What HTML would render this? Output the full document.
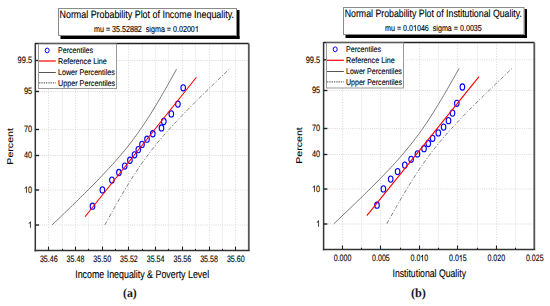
<!DOCTYPE html>
<html><head><meta charset="utf-8"><style>
html,body{margin:0;padding:0;background:#fff;width:550px;height:306px;overflow:hidden}
svg{display:block;font-family:"Liberation Sans", sans-serif;text-rendering:geometricPrecision}
</style></head><body>
<svg width="550" height="306" viewBox="0 0 550 306">
<rect width="550" height="306" fill="#fff"/>
<rect x="60.5" y="36" width="179" height="3" fill="#000"/>
<rect x="237" y="10" width="2.5" height="29" fill="#000"/>
<rect x="58.5" y="8.5" width="178" height="27" fill="#fff" stroke="#8a8a8a" stroke-width="1"/>
<text x="59.50" y="18.35" font-size="10.7" text-anchor="start" fill="#000" stroke="#000" stroke-width="0.12" textLength="174.50" lengthAdjust="spacingAndGlyphs">Normal Probability Plot of Income Inequality.</text>
<text x="94.00" y="32.00" font-size="8.7" fill="#000" stroke="#000" stroke-width="0.12" style="font-kerning:none" textLength="104.80" lengthAdjust="spacingAndGlyphs" xml:space="preserve">mu = 35.52882  sigma = 0.0200 </text>
<path transform="translate(194.829,32.000) scale(0.00349,-0.00425)" d="M763 0L583 0L583 1102Q480 1010 223 878L223 1046Q450 1170 621 1409L763 1409Z" fill="#000" stroke="#000" stroke-width="28.2"/>
<line x1="48.5" y1="43.5" x2="48.5" y2="250.6" stroke="#d9d9d9" stroke-width="1" stroke-dasharray="1,1.7"/>
<line x1="62.5" y1="43.5" x2="62.5" y2="250.6" stroke="#f0f0f0" stroke-width="1"/>
<line x1="75.5" y1="43.5" x2="75.5" y2="250.6" stroke="#d9d9d9" stroke-width="1" stroke-dasharray="1,1.7"/>
<line x1="88.5" y1="43.5" x2="88.5" y2="250.6" stroke="#f0f0f0" stroke-width="1"/>
<line x1="102.5" y1="43.5" x2="102.5" y2="250.6" stroke="#d9d9d9" stroke-width="1" stroke-dasharray="1,1.7"/>
<line x1="115.5" y1="43.5" x2="115.5" y2="250.6" stroke="#f0f0f0" stroke-width="1"/>
<line x1="128.5" y1="43.5" x2="128.5" y2="250.6" stroke="#d9d9d9" stroke-width="1" stroke-dasharray="1,1.7"/>
<line x1="142.5" y1="43.5" x2="142.5" y2="250.6" stroke="#f0f0f0" stroke-width="1"/>
<line x1="155.5" y1="43.5" x2="155.5" y2="250.6" stroke="#d9d9d9" stroke-width="1" stroke-dasharray="1,1.7"/>
<line x1="168.5" y1="43.5" x2="168.5" y2="250.6" stroke="#f0f0f0" stroke-width="1"/>
<line x1="182.5" y1="43.5" x2="182.5" y2="250.6" stroke="#d9d9d9" stroke-width="1" stroke-dasharray="1,1.7"/>
<line x1="195.5" y1="43.5" x2="195.5" y2="250.6" stroke="#f0f0f0" stroke-width="1"/>
<line x1="209.5" y1="43.5" x2="209.5" y2="250.6" stroke="#d9d9d9" stroke-width="1" stroke-dasharray="1,1.7"/>
<line x1="222.5" y1="43.5" x2="222.5" y2="250.6" stroke="#f0f0f0" stroke-width="1"/>
<line x1="235.5" y1="43.5" x2="235.5" y2="250.6" stroke="#d9d9d9" stroke-width="1" stroke-dasharray="1,1.7"/>
<line x1="35.3" y1="60.5" x2="248.8" y2="60.5" stroke="#dadada" stroke-width="1" stroke-dasharray="1,1.2"/>
<line x1="35.3" y1="91.5" x2="248.8" y2="91.5" stroke="#dadada" stroke-width="1" stroke-dasharray="1,1.2"/>
<line x1="35.3" y1="129.5" x2="248.8" y2="129.5" stroke="#dadada" stroke-width="1" stroke-dasharray="1,1.2"/>
<line x1="35.3" y1="155.5" x2="248.8" y2="155.5" stroke="#dadada" stroke-width="1" stroke-dasharray="1,1.2"/>
<line x1="35.3" y1="190.0" x2="248.8" y2="190.0" stroke="#dadada" stroke-width="1" stroke-dasharray="1,1.2"/>
<line x1="35.3" y1="225.0" x2="248.8" y2="225.0" stroke="#dadada" stroke-width="1" stroke-dasharray="1,1.2"/>
<line x1="35.3" y1="43.5" x2="248.8" y2="43.5" stroke="#222" stroke-width="1.5"/>
<line x1="248.8" y1="43.5" x2="248.8" y2="250.6" stroke="#555" stroke-width="1.8"/>
<line x1="35.3" y1="42.9" x2="35.3" y2="251.4" stroke="#333" stroke-width="1.5"/>
<line x1="34.55" y1="250.6" x2="249.70000000000002" y2="250.6" stroke="#333" stroke-width="1.5"/>
<line x1="35.3" y1="60.5" x2="39.099999999999994" y2="60.5" stroke="#222" stroke-width="1.4"/>
<text x="17.60" y="63.30" font-size="9.2" text-anchor="start" fill="#000" stroke="#000" stroke-width="0.12" textLength="14.50" lengthAdjust="spacingAndGlyphs">99.5</text>
<line x1="35.3" y1="91.5" x2="39.099999999999994" y2="91.5" stroke="#222" stroke-width="1.4"/>
<text x="23.90" y="94.30" font-size="9.2" text-anchor="start" fill="#000" stroke="#000" stroke-width="0.12" textLength="8.20" lengthAdjust="spacingAndGlyphs">95</text>
<line x1="35.3" y1="129.5" x2="39.099999999999994" y2="129.5" stroke="#222" stroke-width="1.4"/>
<text x="23.90" y="132.30" font-size="9.2" text-anchor="start" fill="#000" stroke="#000" stroke-width="0.12" textLength="8.20" lengthAdjust="spacingAndGlyphs">70</text>
<line x1="35.3" y1="155.5" x2="39.099999999999994" y2="155.5" stroke="#222" stroke-width="1.4"/>
<text x="23.90" y="158.30" font-size="9.2" text-anchor="start" fill="#000" stroke="#000" stroke-width="0.12" textLength="8.20" lengthAdjust="spacingAndGlyphs">40</text>
<line x1="35.3" y1="190.0" x2="39.099999999999994" y2="190.0" stroke="#222" stroke-width="1.4"/>
<text x="23.90" y="192.80" font-size="9.2" fill="#000" stroke="#000" stroke-width="0.12" style="font-kerning:none" textLength="8.20" lengthAdjust="spacingAndGlyphs"> 0</text>
<path transform="translate(23.900,192.800) scale(0.00360,-0.00449)" d="M763 0L583 0L583 1102Q480 1010 223 878L223 1046Q450 1170 621 1409L763 1409Z" fill="#000" stroke="#000" stroke-width="26.7"/>
<line x1="35.3" y1="225.0" x2="39.099999999999994" y2="225.0" stroke="#222" stroke-width="1.4"/>
<text x="28.00" y="227.80" font-size="9.2" fill="#000" stroke="#000" stroke-width="0.12" style="font-kerning:none" textLength="4.10" lengthAdjust="spacingAndGlyphs"> </text>
<path transform="translate(28.000,227.800) scale(0.00360,-0.00449)" d="M763 0L583 0L583 1102Q480 1010 223 878L223 1046Q450 1170 621 1409L763 1409Z" fill="#000" stroke="#000" stroke-width="26.7"/>
<line x1="48.5" y1="250.6" x2="48.5" y2="246.6" stroke="#222" stroke-width="1.1"/>
<line x1="62.5" y1="250.6" x2="62.5" y2="248.79999999999998" stroke="#222" stroke-width="1.1"/>
<line x1="75.5" y1="250.6" x2="75.5" y2="246.6" stroke="#222" stroke-width="1.1"/>
<line x1="88.5" y1="250.6" x2="88.5" y2="248.79999999999998" stroke="#222" stroke-width="1.1"/>
<line x1="102.5" y1="250.6" x2="102.5" y2="246.6" stroke="#222" stroke-width="1.1"/>
<line x1="115.5" y1="250.6" x2="115.5" y2="248.79999999999998" stroke="#222" stroke-width="1.1"/>
<line x1="128.5" y1="250.6" x2="128.5" y2="246.6" stroke="#222" stroke-width="1.1"/>
<line x1="142.5" y1="250.6" x2="142.5" y2="248.79999999999998" stroke="#222" stroke-width="1.1"/>
<line x1="155.5" y1="250.6" x2="155.5" y2="246.6" stroke="#222" stroke-width="1.1"/>
<line x1="168.5" y1="250.6" x2="168.5" y2="248.79999999999998" stroke="#222" stroke-width="1.1"/>
<line x1="182.5" y1="250.6" x2="182.5" y2="246.6" stroke="#222" stroke-width="1.1"/>
<line x1="195.5" y1="250.6" x2="195.5" y2="248.79999999999998" stroke="#222" stroke-width="1.1"/>
<line x1="209.5" y1="250.6" x2="209.5" y2="246.6" stroke="#222" stroke-width="1.1"/>
<line x1="222.5" y1="250.6" x2="222.5" y2="248.79999999999998" stroke="#222" stroke-width="1.1"/>
<line x1="235.5" y1="250.6" x2="235.5" y2="246.6" stroke="#222" stroke-width="1.1"/>
<text x="39.88" y="261.70" font-size="9.2" text-anchor="start" fill="#000" stroke="#000" stroke-width="0.12" textLength="17.80" lengthAdjust="spacingAndGlyphs">35.46</text>
<text x="66.59" y="261.70" font-size="9.2" text-anchor="start" fill="#000" stroke="#000" stroke-width="0.12" textLength="17.80" lengthAdjust="spacingAndGlyphs">35.48</text>
<text x="93.31" y="261.70" font-size="9.2" text-anchor="start" fill="#000" stroke="#000" stroke-width="0.12" textLength="17.80" lengthAdjust="spacingAndGlyphs">35.50</text>
<text x="120.02" y="261.70" font-size="9.2" text-anchor="start" fill="#000" stroke="#000" stroke-width="0.12" textLength="17.80" lengthAdjust="spacingAndGlyphs">35.52</text>
<text x="146.74" y="261.70" font-size="9.2" text-anchor="start" fill="#000" stroke="#000" stroke-width="0.12" textLength="17.80" lengthAdjust="spacingAndGlyphs">35.54</text>
<text x="173.45" y="261.70" font-size="9.2" text-anchor="start" fill="#000" stroke="#000" stroke-width="0.12" textLength="17.80" lengthAdjust="spacingAndGlyphs">35.56</text>
<text x="200.16" y="261.70" font-size="9.2" text-anchor="start" fill="#000" stroke="#000" stroke-width="0.12" textLength="17.80" lengthAdjust="spacingAndGlyphs">35.58</text>
<text x="226.88" y="261.70" font-size="9.2" text-anchor="start" fill="#000" stroke="#000" stroke-width="0.12" textLength="17.80" lengthAdjust="spacingAndGlyphs">35.60</text>
<text x="75.20" y="278.20" font-size="11" text-anchor="start" fill="#000" stroke="#000" stroke-width="0.12" textLength="134.00" lengthAdjust="spacingAndGlyphs">Income Inequality &amp; Poverty Level</text>
<g transform="translate(13.40,164.70) scale(0.8,1) rotate(-90)"><text x="0" y="0" font-size="10.5" fill="#000" stroke="#000" stroke-width="0.12" textLength="36.70" lengthAdjust="spacingAndGlyphs">Percent</text></g>
<polyline points="52.18,224.88 54.22,222.94 56.26,220.99 58.30,219.04 60.33,217.10 62.36,215.15 64.38,213.20 66.40,211.25 68.41,209.31 70.42,207.36 72.43,205.41 74.42,203.47 76.42,201.52 78.40,199.57 80.38,197.62 82.35,195.68 84.32,193.73 86.27,191.78 88.22,189.84 90.15,187.89 92.08,185.94 94.00,183.99 95.90,182.05 97.80,180.10 99.68,178.15 101.54,176.21 103.39,174.26 105.23,172.31 107.05,170.36 108.86,168.42 110.64,166.47 112.41,164.52 114.15,162.58 115.88,160.63 117.59,158.68 119.27,156.73 120.93,154.79 122.57,152.84 124.18,150.89 125.77,148.95 127.34,147.00 128.88,145.05 130.40,143.10 131.90,141.16 133.37,139.21 134.81,137.26 136.24,135.32 137.64,133.37 139.03,131.42 140.39,129.47 141.73,127.53 143.05,125.58 144.36,123.63 145.65,121.69 146.92,119.74 148.18,117.79 149.42,115.84 150.65,113.90 151.86,111.95 153.07,110.00 154.26,108.06 155.44,106.11 156.61,104.16 157.77,102.21 158.93,100.27 160.07,98.32 161.21,96.37 162.34,94.43 163.46,92.48 164.58,90.53 165.69,88.58 166.80,86.64 167.90,84.69 168.99,82.74 170.08,80.80 171.17,78.85 172.25,76.90 173.33,74.95 174.40,73.01 175.47,71.06 176.54,69.11" fill="none" stroke="#777" stroke-width="1.0"/>
<polyline points="104.87,224.88 105.94,222.94 107.01,220.99 108.08,219.04 109.16,217.10 110.24,215.15 111.33,213.20 112.42,211.25 113.51,209.31 114.61,207.36 115.72,205.41 116.83,203.47 117.94,201.52 119.07,199.57 120.20,197.62 121.34,195.68 122.48,193.73 123.63,191.78 124.80,189.84 125.97,187.89 127.15,185.94 128.34,183.99 129.55,182.05 130.76,180.10 131.99,178.15 133.23,176.21 134.49,174.26 135.76,172.31 137.05,170.36 138.36,168.42 139.68,166.47 141.02,164.52 142.38,162.58 143.76,160.63 145.17,158.68 146.59,156.73 148.04,154.79 149.51,152.84 151.01,150.89 152.53,148.95 154.07,147.00 155.63,145.05 157.22,143.10 158.84,141.16 160.48,139.21 162.14,137.26 163.82,135.32 165.53,133.37 167.25,131.42 169.00,129.47 170.77,127.53 172.55,125.58 174.36,123.63 176.18,121.69 178.01,119.74 179.87,117.79 181.73,115.84 183.61,113.90 185.51,111.95 187.41,110.00 189.33,108.06 191.25,106.11 193.19,104.16 195.14,102.21 197.09,100.27 199.06,98.32 201.03,96.37 203.01,94.43 204.99,92.48 206.99,90.53 208.98,88.58 210.99,86.64 213.00,84.69 215.01,82.74 217.03,80.80 219.05,78.85 221.08,76.90 223.11,74.95 225.15,73.01 227.18,71.06 229.23,69.11" fill="none" stroke="#808080" stroke-width="1.0" stroke-dasharray="4,1.8,1.2,1.8"/>
<ellipse cx="92.50" cy="206.22" rx="2.3" ry="3.1" fill="none" stroke="#0000ff" stroke-width="1.1"/>
<ellipse cx="102.40" cy="189.91" rx="2.3" ry="3.1" fill="none" stroke="#0000ff" stroke-width="1.1"/>
<ellipse cx="111.90" cy="180.08" rx="2.3" ry="3.1" fill="none" stroke="#0000ff" stroke-width="1.1"/>
<ellipse cx="118.90" cy="172.51" rx="2.3" ry="3.1" fill="none" stroke="#0000ff" stroke-width="1.1"/>
<ellipse cx="124.70" cy="166.06" rx="2.3" ry="3.1" fill="none" stroke="#0000ff" stroke-width="1.1"/>
<ellipse cx="129.90" cy="160.25" rx="2.3" ry="3.1" fill="none" stroke="#0000ff" stroke-width="1.1"/>
<ellipse cx="134.50" cy="154.82" rx="2.3" ry="3.1" fill="none" stroke="#0000ff" stroke-width="1.1"/>
<ellipse cx="138.30" cy="149.58" rx="2.3" ry="3.1" fill="none" stroke="#0000ff" stroke-width="1.1"/>
<ellipse cx="142.00" cy="144.42" rx="2.3" ry="3.1" fill="none" stroke="#0000ff" stroke-width="1.1"/>
<ellipse cx="147.00" cy="139.18" rx="2.3" ry="3.1" fill="none" stroke="#0000ff" stroke-width="1.1"/>
<ellipse cx="152.80" cy="133.75" rx="2.3" ry="3.1" fill="none" stroke="#0000ff" stroke-width="1.1"/>
<ellipse cx="161.50" cy="127.94" rx="2.3" ry="3.1" fill="none" stroke="#0000ff" stroke-width="1.1"/>
<ellipse cx="163.80" cy="121.49" rx="2.3" ry="3.1" fill="none" stroke="#0000ff" stroke-width="1.1"/>
<ellipse cx="171.30" cy="113.92" rx="2.3" ry="3.1" fill="none" stroke="#0000ff" stroke-width="1.1"/>
<ellipse cx="177.90" cy="104.09" rx="2.3" ry="3.1" fill="none" stroke="#0000ff" stroke-width="1.1"/>
<ellipse cx="183.20" cy="87.78" rx="2.3" ry="3.1" fill="none" stroke="#0000ff" stroke-width="1.1"/>
<line x1="85.03" y1="216.74" x2="196.38" y2="77.26" stroke="#ff0000" stroke-width="1.1"/>
<rect x="38.5" y="44" width="78.0" height="44.5" fill="#fff" stroke="#999" stroke-width="1"/>
<ellipse cx="47.20" cy="50.50" rx="2.0" ry="2.4" fill="none" stroke="#0000ff" stroke-width="1.0"/>
<line x1="39.0" y1="61" x2="55.8" y2="61" stroke="#ff0000" stroke-width="1.2"/>
<line x1="39.0" y1="72.5" x2="55.8" y2="72.5" stroke="#555" stroke-width="1"/>
<line x1="39.0" y1="82.8" x2="55.8" y2="82.8" stroke="#707070" stroke-width="1.2" stroke-dasharray="1.4,0.9"/>
<text x="58.00" y="53.40" font-size="8.2" text-anchor="start" fill="#000" stroke="#000" stroke-width="0.12" textLength="35.00" lengthAdjust="spacingAndGlyphs">Percentiles</text>
<text x="58.00" y="63.90" font-size="8.2" text-anchor="start" fill="#000" stroke="#000" stroke-width="0.12" textLength="48.80" lengthAdjust="spacingAndGlyphs">Reference Line</text>
<text x="58.00" y="75.40" font-size="8.2" text-anchor="start" fill="#000" stroke="#000" stroke-width="0.12" textLength="56.80" lengthAdjust="spacingAndGlyphs">Lower Percentiles</text>
<text x="58.00" y="85.70" font-size="8.2" text-anchor="start" fill="#000" stroke="#000" stroke-width="0.12" textLength="57.20" lengthAdjust="spacingAndGlyphs">Upper Percentiles</text>
<text x="123" y="296.8" style="font-family:'Liberation Serif',serif;font-weight:bold" font-size="12.5" fill="#1a1a1a" textLength="13.800000000000011" lengthAdjust="spacingAndGlyphs">(a)</text>
<rect x="345.5" y="35" width="181.5" height="3" fill="#000"/>
<rect x="524.5" y="9" width="2.5" height="29" fill="#000"/>
<rect x="343.5" y="7.5" width="180.5" height="27" fill="#fff" stroke="#8a8a8a" stroke-width="1"/>
<text x="344.70" y="17.35" font-size="10.7" text-anchor="start" fill="#000" stroke="#000" stroke-width="0.12" textLength="177.30" lengthAdjust="spacingAndGlyphs">Normal Probability Plot of Institutional Quality.</text>
<text x="385.00" y="31.00" font-size="8.7" fill="#000" stroke="#000" stroke-width="0.12" style="font-kerning:none" textLength="96.80" lengthAdjust="spacingAndGlyphs" xml:space="preserve">mu = 0.0 046  sigma = 0.0035</text>
<path transform="translate(412.966,31.000) scale(0.00348,-0.00425)" d="M763 0L583 0L583 1102Q480 1010 223 878L223 1046Q450 1170 621 1409L763 1409Z" fill="#000" stroke="#000" stroke-width="28.2"/>
<line x1="342.5" y1="42.6" x2="342.5" y2="249.5" stroke="#d9d9d9" stroke-width="1" stroke-dasharray="1,1.7"/>
<line x1="361.5" y1="42.6" x2="361.5" y2="249.5" stroke="#f0f0f0" stroke-width="1"/>
<line x1="380.5" y1="42.6" x2="380.5" y2="249.5" stroke="#d9d9d9" stroke-width="1" stroke-dasharray="1,1.7"/>
<line x1="400.5" y1="42.6" x2="400.5" y2="249.5" stroke="#f0f0f0" stroke-width="1"/>
<line x1="419.5" y1="42.6" x2="419.5" y2="249.5" stroke="#d9d9d9" stroke-width="1" stroke-dasharray="1,1.7"/>
<line x1="438.5" y1="42.6" x2="438.5" y2="249.5" stroke="#f0f0f0" stroke-width="1"/>
<line x1="457.5" y1="42.6" x2="457.5" y2="249.5" stroke="#d9d9d9" stroke-width="1" stroke-dasharray="1,1.7"/>
<line x1="477.5" y1="42.6" x2="477.5" y2="249.5" stroke="#f0f0f0" stroke-width="1"/>
<line x1="496.5" y1="42.6" x2="496.5" y2="249.5" stroke="#d9d9d9" stroke-width="1" stroke-dasharray="1,1.7"/>
<line x1="515.5" y1="42.6" x2="515.5" y2="249.5" stroke="#f0f0f0" stroke-width="1"/>
<line x1="323.6" y1="59.8" x2="534.3" y2="59.8" stroke="#dadada" stroke-width="1" stroke-dasharray="1,1.2"/>
<line x1="323.6" y1="90.5" x2="534.3" y2="90.5" stroke="#dadada" stroke-width="1" stroke-dasharray="1,1.2"/>
<line x1="323.6" y1="128.5" x2="534.3" y2="128.5" stroke="#dadada" stroke-width="1" stroke-dasharray="1,1.2"/>
<line x1="323.6" y1="154.5" x2="534.3" y2="154.5" stroke="#dadada" stroke-width="1" stroke-dasharray="1,1.2"/>
<line x1="323.6" y1="189.0" x2="534.3" y2="189.0" stroke="#dadada" stroke-width="1" stroke-dasharray="1,1.2"/>
<line x1="323.6" y1="224.0" x2="534.3" y2="224.0" stroke="#dadada" stroke-width="1" stroke-dasharray="1,1.2"/>
<line x1="323.6" y1="42.6" x2="534.3" y2="42.6" stroke="#222" stroke-width="1.5"/>
<line x1="534.3" y1="42.6" x2="534.3" y2="249.5" stroke="#555" stroke-width="1.8"/>
<line x1="323.6" y1="42.0" x2="323.6" y2="250.3" stroke="#333" stroke-width="1.5"/>
<line x1="322.85" y1="249.5" x2="535.1999999999999" y2="249.5" stroke="#333" stroke-width="1.5"/>
<line x1="323.6" y1="59.8" x2="327.40000000000003" y2="59.8" stroke="#222" stroke-width="1.4"/>
<text x="305.70" y="62.60" font-size="9.2" text-anchor="start" fill="#000" stroke="#000" stroke-width="0.12" textLength="14.50" lengthAdjust="spacingAndGlyphs">99.5</text>
<line x1="323.6" y1="90.5" x2="327.40000000000003" y2="90.5" stroke="#222" stroke-width="1.4"/>
<text x="312.00" y="93.30" font-size="9.2" text-anchor="start" fill="#000" stroke="#000" stroke-width="0.12" textLength="8.20" lengthAdjust="spacingAndGlyphs">95</text>
<line x1="323.6" y1="128.5" x2="327.40000000000003" y2="128.5" stroke="#222" stroke-width="1.4"/>
<text x="312.00" y="131.30" font-size="9.2" text-anchor="start" fill="#000" stroke="#000" stroke-width="0.12" textLength="8.20" lengthAdjust="spacingAndGlyphs">70</text>
<line x1="323.6" y1="154.5" x2="327.40000000000003" y2="154.5" stroke="#222" stroke-width="1.4"/>
<text x="312.00" y="157.30" font-size="9.2" text-anchor="start" fill="#000" stroke="#000" stroke-width="0.12" textLength="8.20" lengthAdjust="spacingAndGlyphs">40</text>
<line x1="323.6" y1="189.0" x2="327.40000000000003" y2="189.0" stroke="#222" stroke-width="1.4"/>
<text x="312.00" y="191.80" font-size="9.2" fill="#000" stroke="#000" stroke-width="0.12" style="font-kerning:none" textLength="8.20" lengthAdjust="spacingAndGlyphs"> 0</text>
<path transform="translate(312.000,191.800) scale(0.00360,-0.00449)" d="M763 0L583 0L583 1102Q480 1010 223 878L223 1046Q450 1170 621 1409L763 1409Z" fill="#000" stroke="#000" stroke-width="26.7"/>
<line x1="323.6" y1="224.0" x2="327.40000000000003" y2="224.0" stroke="#222" stroke-width="1.4"/>
<text x="316.10" y="226.80" font-size="9.2" fill="#000" stroke="#000" stroke-width="0.12" style="font-kerning:none" textLength="4.10" lengthAdjust="spacingAndGlyphs"> </text>
<path transform="translate(316.100,226.800) scale(0.00360,-0.00449)" d="M763 0L583 0L583 1102Q480 1010 223 878L223 1046Q450 1170 621 1409L763 1409Z" fill="#000" stroke="#000" stroke-width="26.7"/>
<line x1="342.5" y1="249.5" x2="342.5" y2="245.5" stroke="#222" stroke-width="1.1"/>
<line x1="361.5" y1="249.5" x2="361.5" y2="247.7" stroke="#222" stroke-width="1.1"/>
<line x1="380.5" y1="249.5" x2="380.5" y2="245.5" stroke="#222" stroke-width="1.1"/>
<line x1="400.5" y1="249.5" x2="400.5" y2="247.7" stroke="#222" stroke-width="1.1"/>
<line x1="419.5" y1="249.5" x2="419.5" y2="245.5" stroke="#222" stroke-width="1.1"/>
<line x1="438.5" y1="249.5" x2="438.5" y2="247.7" stroke="#222" stroke-width="1.1"/>
<line x1="457.5" y1="249.5" x2="457.5" y2="245.5" stroke="#222" stroke-width="1.1"/>
<line x1="477.5" y1="249.5" x2="477.5" y2="247.7" stroke="#222" stroke-width="1.1"/>
<line x1="496.5" y1="249.5" x2="496.5" y2="245.5" stroke="#222" stroke-width="1.1"/>
<line x1="515.5" y1="249.5" x2="515.5" y2="247.7" stroke="#222" stroke-width="1.1"/>
<text x="333.65" y="261.20" font-size="9.2" text-anchor="start" fill="#000" stroke="#000" stroke-width="0.12" textLength="17.70" lengthAdjust="spacingAndGlyphs">0.000</text>
<text x="372.10" y="261.20" font-size="9.2" text-anchor="start" fill="#000" stroke="#000" stroke-width="0.12" textLength="17.70" lengthAdjust="spacingAndGlyphs">0.005</text>
<text x="410.55" y="261.20" font-size="9.2" fill="#000" stroke="#000" stroke-width="0.12" style="font-kerning:none" textLength="17.70" lengthAdjust="spacingAndGlyphs">0.0 0</text>
<path transform="translate(420.383,261.200) scale(0.00345,-0.00449)" d="M763 0L583 0L583 1102Q480 1010 223 878L223 1046Q450 1170 621 1409L763 1409Z" fill="#000" stroke="#000" stroke-width="26.7"/>
<text x="449.00" y="261.20" font-size="9.2" fill="#000" stroke="#000" stroke-width="0.12" style="font-kerning:none" textLength="17.70" lengthAdjust="spacingAndGlyphs">0.0 5</text>
<path transform="translate(458.833,261.200) scale(0.00345,-0.00449)" d="M763 0L583 0L583 1102Q480 1010 223 878L223 1046Q450 1170 621 1409L763 1409Z" fill="#000" stroke="#000" stroke-width="26.7"/>
<text x="487.45" y="261.20" font-size="9.2" text-anchor="start" fill="#000" stroke="#000" stroke-width="0.12" textLength="17.70" lengthAdjust="spacingAndGlyphs">0.020</text>
<text x="525.90" y="261.20" font-size="9.2" text-anchor="start" fill="#000" stroke="#000" stroke-width="0.12" textLength="17.70" lengthAdjust="spacingAndGlyphs">0.025</text>
<text x="392.50" y="277.20" font-size="11" text-anchor="start" fill="#000" stroke="#000" stroke-width="0.12" textLength="73.50" lengthAdjust="spacingAndGlyphs">Institutional Quality</text>
<g transform="translate(302.30,163.80) scale(0.8,1) rotate(-90)"><text x="0" y="0" font-size="10.5" fill="#000" stroke="#000" stroke-width="0.12" textLength="36.60" lengthAdjust="spacingAndGlyphs">Percent</text></g>
<polyline points="333.80,223.80 335.85,221.86 337.90,219.91 339.95,217.97 342.00,216.03 344.04,214.09 346.08,212.14 348.11,210.20 350.14,208.26 352.16,206.32 354.18,204.37 356.19,202.43 358.20,200.49 360.20,198.55 362.19,196.60 364.18,194.66 366.15,192.72 368.12,190.78 370.08,188.83 372.03,186.89 373.97,184.95 375.90,183.01 377.82,181.06 379.73,179.12 381.62,177.18 383.50,175.24 385.37,173.29 387.22,171.35 389.05,169.41 390.87,167.47 392.66,165.52 394.44,163.58 396.20,161.64 397.94,159.70 399.66,157.75 401.35,155.81 403.03,153.87 404.68,151.93 406.30,149.98 407.90,148.04 409.48,146.10 411.03,144.16 412.56,142.21 414.07,140.27 415.55,138.33 417.01,136.39 418.44,134.44 419.86,132.50 421.25,130.56 422.62,128.62 423.97,126.67 425.30,124.73 426.62,122.79 427.92,120.85 429.20,118.90 430.46,116.96 431.71,115.02 432.95,113.08 434.17,111.13 435.39,109.19 436.59,107.25 437.78,105.31 438.96,103.36 440.13,101.42 441.29,99.48 442.44,97.54 443.59,95.59 444.73,93.65 445.86,91.71 446.98,89.77 448.10,87.82 449.21,85.88 450.32,83.94 451.42,82.00 452.52,80.05 453.61,78.11 454.70,76.17 455.79,74.23 456.87,72.28 457.95,70.34 459.02,68.40" fill="none" stroke="#777" stroke-width="1.0"/>
<polyline points="386.85,223.80 387.93,221.86 389.01,219.91 390.09,217.97 391.17,216.03 392.26,214.09 393.36,212.14 394.45,210.20 395.56,208.26 396.66,206.32 397.78,204.37 398.89,202.43 400.02,200.49 401.15,198.55 402.29,196.60 403.43,194.66 404.59,192.72 405.75,190.78 406.92,188.83 408.10,186.89 409.29,184.95 410.49,183.01 411.70,181.06 412.93,179.12 414.16,177.18 415.41,175.24 416.68,173.29 417.96,171.35 419.26,169.41 420.57,167.47 421.91,165.52 423.26,163.58 424.63,161.64 426.02,159.70 427.43,157.75 428.87,155.81 430.33,153.87 431.81,151.93 433.31,149.98 434.84,148.04 436.40,146.10 437.97,144.16 439.58,142.21 441.20,140.27 442.85,138.33 444.52,136.39 446.22,134.44 447.94,132.50 449.67,130.56 451.43,128.62 453.21,126.67 455.01,124.73 456.83,122.79 458.66,120.85 460.51,118.90 462.38,116.96 464.26,115.02 466.15,113.08 468.06,111.13 469.97,109.19 471.90,107.25 473.84,105.31 475.79,103.36 477.76,101.42 479.72,99.48 481.70,97.54 483.69,95.59 485.68,93.65 487.68,91.71 489.69,89.77 491.70,87.82 493.71,85.88 495.74,83.94 497.77,82.00 499.80,80.05 501.84,78.11 503.88,76.17 505.92,74.23 507.97,72.28 510.03,70.34 512.08,68.40" fill="none" stroke="#808080" stroke-width="1.0" stroke-dasharray="4,1.8,1.2,1.8"/>
<ellipse cx="377.00" cy="205.18" rx="2.3" ry="3.1" fill="none" stroke="#0000ff" stroke-width="1.1"/>
<ellipse cx="383.40" cy="188.90" rx="2.3" ry="3.1" fill="none" stroke="#0000ff" stroke-width="1.1"/>
<ellipse cx="390.70" cy="179.10" rx="2.3" ry="3.1" fill="none" stroke="#0000ff" stroke-width="1.1"/>
<ellipse cx="397.60" cy="171.55" rx="2.3" ry="3.1" fill="none" stroke="#0000ff" stroke-width="1.1"/>
<ellipse cx="404.80" cy="165.11" rx="2.3" ry="3.1" fill="none" stroke="#0000ff" stroke-width="1.1"/>
<ellipse cx="411.10" cy="159.32" rx="2.3" ry="3.1" fill="none" stroke="#0000ff" stroke-width="1.1"/>
<ellipse cx="417.50" cy="153.90" rx="2.3" ry="3.1" fill="none" stroke="#0000ff" stroke-width="1.1"/>
<ellipse cx="424.00" cy="148.68" rx="2.3" ry="3.1" fill="none" stroke="#0000ff" stroke-width="1.1"/>
<ellipse cx="428.30" cy="143.52" rx="2.3" ry="3.1" fill="none" stroke="#0000ff" stroke-width="1.1"/>
<ellipse cx="432.60" cy="138.30" rx="2.3" ry="3.1" fill="none" stroke="#0000ff" stroke-width="1.1"/>
<ellipse cx="438.30" cy="132.88" rx="2.3" ry="3.1" fill="none" stroke="#0000ff" stroke-width="1.1"/>
<ellipse cx="443.60" cy="127.09" rx="2.3" ry="3.1" fill="none" stroke="#0000ff" stroke-width="1.1"/>
<ellipse cx="448.50" cy="120.65" rx="2.3" ry="3.1" fill="none" stroke="#0000ff" stroke-width="1.1"/>
<ellipse cx="452.50" cy="113.10" rx="2.3" ry="3.1" fill="none" stroke="#0000ff" stroke-width="1.1"/>
<ellipse cx="456.80" cy="103.30" rx="2.3" ry="3.1" fill="none" stroke="#0000ff" stroke-width="1.1"/>
<ellipse cx="462.40" cy="87.02" rx="2.3" ry="3.1" fill="none" stroke="#0000ff" stroke-width="1.1"/>
<line x1="366.87" y1="215.67" x2="479.00" y2="76.53" stroke="#ff0000" stroke-width="1.1"/>
<rect x="326.5" y="43" width="77.0" height="45" fill="#fff" stroke="#999" stroke-width="1"/>
<ellipse cx="335.20" cy="49.30" rx="2.0" ry="2.4" fill="none" stroke="#0000ff" stroke-width="1.0"/>
<line x1="327.0" y1="60.3" x2="343.8" y2="60.3" stroke="#ff0000" stroke-width="1.2"/>
<line x1="327.0" y1="71.5" x2="343.8" y2="71.5" stroke="#555" stroke-width="1"/>
<line x1="327.0" y1="81.8" x2="343.8" y2="81.8" stroke="#707070" stroke-width="1.2" stroke-dasharray="1.4,0.9"/>
<text x="346.00" y="52.20" font-size="8.2" text-anchor="start" fill="#000" stroke="#000" stroke-width="0.12" textLength="35.00" lengthAdjust="spacingAndGlyphs">Percentiles</text>
<text x="346.00" y="63.20" font-size="8.2" text-anchor="start" fill="#000" stroke="#000" stroke-width="0.12" textLength="48.80" lengthAdjust="spacingAndGlyphs">Reference Line</text>
<text x="346.00" y="74.40" font-size="8.2" text-anchor="start" fill="#000" stroke="#000" stroke-width="0.12" textLength="55.80" lengthAdjust="spacingAndGlyphs">Lower Percentiles</text>
<text x="346.00" y="84.70" font-size="8.2" text-anchor="start" fill="#000" stroke="#000" stroke-width="0.12" textLength="56.00" lengthAdjust="spacingAndGlyphs">Upper Percentiles</text>
<text x="410.9" y="297.0" style="font-family:'Liberation Serif',serif;font-weight:bold" font-size="12.5" fill="#1a1a1a" textLength="15.100000000000023" lengthAdjust="spacingAndGlyphs">(b)</text>
</svg>
</body></html>
